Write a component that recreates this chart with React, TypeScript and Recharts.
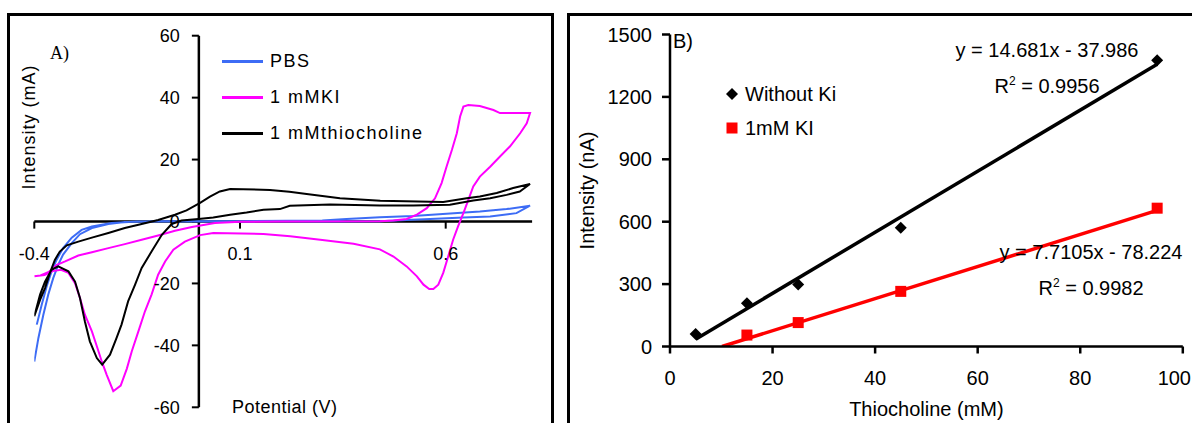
import React from "react";
import {
  LineChart,
  ComposedChart,
  Line,
  Scatter,
  XAxis,
  YAxis,
  ReferenceLine,
  Legend,
} from "recharts";

// ---- panel A: cyclic voltammograms (potential V, current mA) ----
const pbsScan = [
  { v: -0.394, i: -33.3 }, { v: -0.382, i: -26.9 }, { v: -0.37, i: -21.0 },
  { v: -0.358, i: -16.1 }, { v: -0.346, i: -12.4 }, { v: -0.33, i: -8.6 },
  { v: -0.309, i: -5.2 }, { v: -0.285, i: -2.7 }, { v: -0.26, i: -1.6 },
  { v: -0.212, i: -0.5 }, { v: -0.15, i: 0.0 }, { v: 0.1, i: 0.1 },
  { v: 0.3, i: 0.3 }, { v: 0.359, i: 0.8 }, { v: 0.44, i: 1.4 },
  { v: 0.521, i: 1.8 }, { v: 0.602, i: 2.5 }, { v: 0.683, i: 3.2 },
  { v: 0.748, i: 4.0 }, { v: 0.805, i: 5.1 }, { v: 0.772, i: 2.7 },
  { v: 0.708, i: 1.6 }, { v: 0.643, i: 1.3 }, { v: 0.562, i: 0.8 },
  { v: 0.505, i: 0.5 }, { v: 0.44, i: 0.1 }, { v: 0.3, i: 0.0 },
  { v: -0.1, i: 0.1 }, { v: -0.18, i: -0.2 }, { v: -0.22, i: -0.8 },
  { v: -0.26, i: -2.1 }, { v: -0.289, i: -4.1 }, { v: -0.309, i: -7.0 },
  { v: -0.33, i: -10.7 }, { v: -0.342, i: -14.0 }, { v: -0.354, i: -18.3 },
  { v: -0.366, i: -23.6 }, { v: -0.378, i: -30.1 }, { v: -0.39, i: -37.6 },
  { v: -0.4, i: -45.2 },
];

const kiScan = [
  { v: -0.4, i: -17.7 }, { v: -0.385, i: -17.4 }, { v: -0.365, i: -16.3 },
  { v: -0.345, i: -14.0 }, { v: -0.325, i: -12.9 }, { v: -0.293, i: -11.0 },
  { v: -0.26, i: -9.9 }, { v: -0.22, i: -8.6 }, { v: -0.18, i: -7.3 },
  { v: -0.139, i: -5.9 }, { v: -0.099, i: -4.5 }, { v: -0.058, i: -3.0 },
  { v: -0.017, i: -1.8 }, { v: 0.039, i: -0.5 }, { v: 0.1, i: -0.1 },
  { v: 0.2, i: 0.0 }, { v: 0.44, i: 0.1 }, { v: 0.473, i: 0.3 },
  { v: 0.505, i: 0.8 }, { v: 0.53, i: 2.2 }, { v: 0.554, i: 4.3 },
  { v: 0.574, i: 7.5 }, { v: 0.59, i: 12.4 }, { v: 0.602, i: 17.7 },
  { v: 0.615, i: 23.1 }, { v: 0.627, i: 28.5 }, { v: 0.635, i: 33.9 },
  { v: 0.643, i: 37.1 }, { v: 0.655, i: 37.6 }, { v: 0.683, i: 37.3 },
  { v: 0.716, i: 36.0 }, { v: 0.732, i: 35.0 }, { v: 0.805, i: 35.0 },
  { v: 0.797, i: 31.7 }, { v: 0.781, i: 28.5 }, { v: 0.756, i: 24.2 },
  { v: 0.732, i: 21.0 }, { v: 0.708, i: 17.7 }, { v: 0.683, i: 14.5 },
  { v: 0.667, i: 11.3 }, { v: 0.655, i: 7.0 }, { v: 0.643, i: 2.7 },
  { v: 0.63, i: -1.6 }, { v: 0.618, i: -5.9 }, { v: 0.606, i: -11.3 },
  { v: 0.594, i: -16.6 }, { v: 0.582, i: -20.4 }, { v: 0.57, i: -21.8 },
  { v: 0.56, i: -21.8 }, { v: 0.546, i: -20.4 }, { v: 0.53, i: -17.7 },
  { v: 0.505, i: -14.5 }, { v: 0.473, i: -11.3 }, { v: 0.44, i: -9.0 },
  { v: 0.376, i: -7.2 }, { v: 0.295, i: -5.9 }, { v: 0.222, i: -4.8 },
  { v: 0.157, i: -4.0 }, { v: 0.035, i: -3.7 }, { v: 0.003, i: -4.4 },
  { v: -0.034, i: -6.5 }, { v: -0.062, i: -9.1 }, { v: -0.082, i: -12.9 },
  { v: -0.099, i: -17.2 }, { v: -0.115, i: -23.6 }, { v: -0.131, i: -29.0 },
  { v: -0.147, i: -35.5 }, { v: -0.163, i: -41.9 }, { v: -0.175, i: -47.5 },
  { v: -0.19, i: -53.0 }, { v: -0.208, i: -54.8 }, { v: -0.224, i: -49.5 },
  { v: -0.236, i: -45.2 }, { v: -0.248, i: -40.3 }, { v: -0.26, i: -35.5 },
  { v: -0.277, i: -30.1 }, { v: -0.289, i: -24.7 }, { v: -0.301, i: -19.9 },
  { v: -0.317, i: -16.6 }, { v: -0.335, i: -15.6 }, { v: -0.355, i: -16.0 },
  { v: -0.375, i: -17.3 }, { v: -0.4, i: -17.7 },
];

const thioScan = [
  { v: -0.4, i: -30.6 }, { v: -0.386, i: -25.3 }, { v: -0.374, i: -21.5 },
  { v: -0.362, i: -16.6 }, { v: -0.35, i: -12.4 }, { v: -0.338, i: -9.7 },
  { v: -0.321, i: -7.7 }, { v: -0.293, i: -6.5 }, { v: -0.26, i: -5.2 },
  { v: -0.22, i: -3.7 }, { v: -0.18, i: -2.1 }, { v: -0.139, i: -0.8 },
  { v: -0.099, i: 0.5 }, { v: -0.058, i: 2.2 }, { v: -0.03, i: 3.6 },
  { v: 0.003, i: 6.0 }, { v: 0.027, i: 8.0 }, { v: 0.051, i: 9.7 },
  { v: 0.076, i: 10.5 }, { v: 0.173, i: 10.2 }, { v: 0.22, i: 9.6 },
  { v: 0.262, i: 8.9 }, { v: 0.343, i: 7.5 }, { v: 0.441, i: 6.7 },
  { v: 0.594, i: 6.3 }, { v: 0.651, i: 7.5 }, { v: 0.683, i: 8.1 },
  { v: 0.724, i: 9.2 }, { v: 0.764, i: 10.8 }, { v: 0.805, i: 12.1 },
  { v: 0.78, i: 9.7 }, { v: 0.748, i: 8.6 }, { v: 0.708, i: 7.5 },
  { v: 0.667, i: 6.8 }, { v: 0.61, i: 5.4 }, { v: 0.521, i: 5.2 },
  { v: 0.44, i: 5.2 }, { v: 0.319, i: 5.5 }, { v: 0.221, i: 5.1 },
  { v: 0.197, i: 4.0 }, { v: 0.157, i: 3.8 }, { v: 0.116, i: 2.9 },
  { v: 0.076, i: 2.2 }, { v: 0.035, i: 1.3 }, { v: -0.001, i: 0.8 },
  { v: -0.042, i: 0.3 }, { v: -0.066, i: -0.8 }, { v: -0.09, i: -4.3 },
  { v: -0.115, i: -9.7 }, { v: -0.139, i: -15.0 }, { v: -0.155, i: -20.4 },
  { v: -0.172, i: -25.8 }, { v: -0.188, i: -33.3 }, { v: -0.2, i: -37.6 },
  { v: -0.216, i: -43.0 }, { v: -0.235, i: -46.2 }, { v: -0.248, i: -44.1 },
  { v: -0.265, i: -38.7 }, { v: -0.277, i: -32.3 }, { v: -0.289, i: -24.7 },
  { v: -0.301, i: -19.4 }, { v: -0.317, i: -16.1 }, { v: -0.342, i: -14.5 },
  { v: -0.358, i: -15.6 }, { v: -0.374, i: -19.4 }, { v: -0.386, i: -23.6 },
  { v: -0.4, i: -30.6 },
];

const potentialTicks = [-0.4, 0.1, 0.6];
const currentTicks = [-60, -40, -20, 0, 20, 40, 60];
const legendOrderA = ["PBS", "1 mMKI", "1 mMthiocholine"];

// ---- panel B: calibration (thiocholine mM, current nA) ----
const thioConc = [5, 15, 25, 45, 95];
const withoutKi = [60, 208, 298, 571, 1376];
const kiConc = [15, 25, 45, 95];
const withKi = [55, 115, 265, 665];
const concTicks = [0, 20, 40, 60, 80, 100];
const nATicks = [0, 300, 600, 900, 1200, 1500];
const legendOrderB = ["Without Ki", "1mM KI"];

// trendlines as printed on the chart
const fitWithout = { slope: 14.681, intercept: -37.986, from: 5, to: 95 };
const fitKi = { slope: 7.7105, intercept: -78.224, from: 10.14, to: 95 };

const PBS_COLOR = "#3d6cf5";
const KI_COLOR = "#ff00ff";
const RED = "#ff0000";

const withoutPts = thioConc.map((x, k) => ({ x, y: withoutKi[k] }));
const kiPts = kiConc.map((x, k) => ({ x, y: withKi[k] }));
const fitLine = (f: typeof fitWithout) => [
  { x: f.from, y: f.slope * f.from + f.intercept },
  { x: f.to, y: f.slope * f.to + f.intercept },
];

const Diamond = (p: any) => (
  <polygon
    points={`${p.cx},${p.cy - 6} ${p.cx + 6},${p.cy} ${p.cx},${p.cy + 6} ${p.cx - 6},${p.cy}`}
    fill="#000"
  />
);
const Square = (p: any) => (
  <rect x={p.cx - 5.5} y={p.cy - 5.5} width={11} height={11} fill={RED} />
);

// last x label sits at the window edge, keep it inside
const ConcTick = (p: any) => {
  const last = p.payload.value === concTicks[concTicks.length - 1];
  return (
    <text
      x={last ? 623 : p.x}
      y={p.y}
      dy="0.71em"
      textAnchor={last ? "end" : "middle"}
      fill="#000"
      fontSize={20}
    >
      {p.payload.value}
    </text>
  );
};

const sortBy = (items: any[], order: string[]) =>
  items
    .filter((e) => e.type !== "none" && order.includes(e.value))
    .sort((a, b) => order.indexOf(a.value) - order.indexOf(b.value));

function LegendA(props: any) {
  const items = sortBy(props.payload || [], legendOrderA);
  return (
    <div style={{ position: "relative", width: 0, height: 0 }}>
      {items.map((e: any, k: number) => (
        <div
          key={e.value}
          style={{
            position: "absolute",
            left: 222,
            top: 49 + 36 * k,
            height: 24,
            display: "flex",
            alignItems: "center",
            whiteSpace: "nowrap",
            fontSize: 18,
            letterSpacing: 1.5,
            color: "#000",
          }}
        >
          <span style={{ display: "inline-block", width: 41, height: 3, background: e.color, marginRight: 7 }} />
          <span>{e.value}</span>
        </div>
      ))}
    </div>
  );
}

function LegendB(props: any) {
  const items = sortBy(props.payload || [], legendOrderB);
  return (
    <div style={{ position: "relative", width: 0, height: 0 }}>
      {items.map((e: any, k: number) => (
        <div
          key={e.value}
          style={{
            position: "absolute",
            left: 157,
            top: 82 + 34 * k,
            height: 24,
            display: "flex",
            alignItems: "center",
            whiteSpace: "nowrap",
            fontSize: 20,
            color: "#000",
          }}
        >
          <svg width={14} height={14} style={{ marginRight: 6 }}>
            {e.value === legendOrderB[0] ? (
              <polygon points="7,1 13,7 7,13 1,7" fill="#000" />
            ) : (
              <rect x={1.5} y={1.5} width={11} height={11} fill={RED} />
            )}
          </svg>
          <span>{e.value}</span>
        </div>
      ))}
    </div>
  );
}

const abs = (left: number, top: number, extra: React.CSSProperties = {}): React.CSSProperties => ({
  position: "absolute",
  left,
  top,
  whiteSpace: "nowrap",
  ...extra,
});

export default function App() {
  return (
    <div
      style={{
        position: "absolute",
        left: 0,
        top: 0,
        width: 1192,
        height: 423,
        overflow: "hidden",
        background: "#fff",
        fontFamily: "'Liberation Sans', Arial, sans-serif",
        color: "#000",
      }}
    >
      <div style={abs(7, 13, { width: 547, height: 430, border: "3px solid #000", boxSizing: "border-box" })} />
      <div style={abs(567, 13, { width: 700, height: 430, border: "3px solid #000", boxSizing: "border-box" })} />

      {/* panel A */}
      <LineChart
        width={560}
        height={423}
        margin={{ top: 35.7, right: 27.9, bottom: 15.7, left: 34.3 }}
        style={{ position: "absolute", left: 0, top: 0 }}
      >
        <XAxis type="number" dataKey="v" domain={[-0.4, 0.81]} hide allowDataOverflow />
        <YAxis type="number" dataKey="i" domain={[-60, 60]} hide allowDataOverflow />
        <ReferenceLine segment={[{ x: -0.4, y: 0 }, { x: 0.81, y: 0 }]} stroke="#000" strokeWidth={2.5} />
        <ReferenceLine x={0} stroke="#000" strokeWidth={2.5} />
        {potentialTicks.map((t) => (
          <ReferenceLine
            key={"x" + t}
            segment={[{ x: t, y: 0 }, { x: t, y: -2.3 }]}
            stroke="#000"
            strokeWidth={2}
            label={{ value: String(t), position: "bottom", offset: 19, fill: "#000", fontSize: 18 }}
          />
        ))}
        {currentTicks.map((t) => (
          <ReferenceLine
            key={"y" + t}
            segment={[{ x: -0.017, y: t }, { x: 0, y: t }]}
            stroke="#000"
            strokeWidth={2}
            label={{ value: String(t), position: "left", offset: 12, fill: "#000", fontSize: 18 }}
          />
        ))}
        <Line name="PBS" data={pbsScan} dataKey="i" type="linear" stroke={PBS_COLOR} strokeWidth={2} dot={false} isAnimationActive={false} />
        <Line name="1 mMKI" data={kiScan} dataKey="i" type="linear" stroke={KI_COLOR} strokeWidth={2} dot={false} isAnimationActive={false} />
        <Line name="1 mMthiocholine" data={thioScan} dataKey="i" type="linear" stroke="#000" strokeWidth={2} dot={false} isAnimationActive={false} />
        <Legend
          layout="horizontal"
          verticalAlign="middle"
          align="center"
          content={LegendA}
          wrapperStyle={{ left: 0, top: 0, width: 0, height: 0 }}
        />
      </LineChart>

      <div style={abs(50, 44, { fontFamily: "'Liberation Serif', 'Times New Roman', serif", fontSize: 18, lineHeight: "18px" })}>A)</div>
      <div
        style={abs(29, 127, {
          fontSize: 18,
          letterSpacing: 1,
          transform: "translate(-50%, -50%) rotate(-90deg)",
        })}
      >
        Intensity (mA)
      </div>
      <div style={abs(232, 397, { fontSize: 18, lineHeight: "20px", letterSpacing: 0.5 })}>Potential (V)</div>

      {/* panel B */}
      <ComposedChart
        width={624}
        height={423}
        margin={{ top: 34.5, right: 9.2, bottom: 0, left: 0 }}
        style={{ position: "absolute", left: 568, top: 0 }}
      >
        <XAxis
          type="number"
          dataKey="x"
          domain={[0, 100]}
          ticks={concTicks}
          interval={0}
          height={76.5}
          tickSize={7}
          tickMargin={17}
          axisLine={{ stroke: "#000", strokeWidth: 2.5 }}
          tickLine={{ stroke: "#000", strokeWidth: 2.5 }}
          tick={ConcTick}
          allowDataOverflow
          label={{ value: "Thiocholine (mM)", position: "insideBottom", offset: 7, fill: "#000", fontSize: 20 }}
        />
        <YAxis
          type="number"
          dataKey="y"
          domain={[0, 1500]}
          ticks={nATicks}
          interval={0}
          width={102}
          tickSize={8}
          tickMargin={10}
          axisLine={{ stroke: "#000", strokeWidth: 2.5 }}
          tickLine={{ stroke: "#000", strokeWidth: 2.5 }}
          tick={{ fill: "#000", fontSize: 20 }}
          allowDataOverflow
          label={{
            value: "Intensity (nA)",
            angle: -90,
            position: "insideLeft",
            offset: 19,
            fill: "#000",
            fontSize: 20,
            style: { textAnchor: "middle" },
          }}
        />
        <Line data={fitLine(fitWithout)} dataKey="y" type="linear" stroke="#000" strokeWidth={3.5} dot={false} legendType="none" isAnimationActive={false} />
        <Line data={fitLine(fitKi)} dataKey="y" type="linear" stroke={RED} strokeWidth={3.5} dot={false} legendType="none" isAnimationActive={false} />
        <Scatter name="Without Ki" data={withoutPts} fill="#000" shape={Diamond} isAnimationActive={false} />
        <Scatter name="1mM KI" data={kiPts} fill={RED} shape={Square} isAnimationActive={false} />
        <Legend
          layout="horizontal"
          verticalAlign="middle"
          align="center"
          content={LegendB}
          wrapperStyle={{ left: 0, top: 0, width: 0, height: 0 }}
        />
      </ComposedChart>

      <div style={abs(673, 31, { fontSize: 20, lineHeight: "20px" })}>B)</div>
      <div style={abs(1047, 40, { fontSize: 20, lineHeight: "20px", transform: "translateX(-50%)" })}>y = 14.681x - 37.986</div>
      <div style={abs(1047, 71, { fontSize: 20, lineHeight: "20px", transform: "translateX(-50%)" })}>
        R<sup style={{ fontSize: 12 }}>2</sup> = 0.9956
      </div>
      <div style={abs(1091, 242, { fontSize: 20, lineHeight: "20px", transform: "translateX(-50%)" })}>y = 7.7105x - 78.224</div>
      <div style={abs(1091, 273, { fontSize: 20, lineHeight: "20px", transform: "translateX(-50%)" })}>
        R<sup style={{ fontSize: 12 }}>2</sup> = 0.9982
      </div>
    </div>
  );
}
